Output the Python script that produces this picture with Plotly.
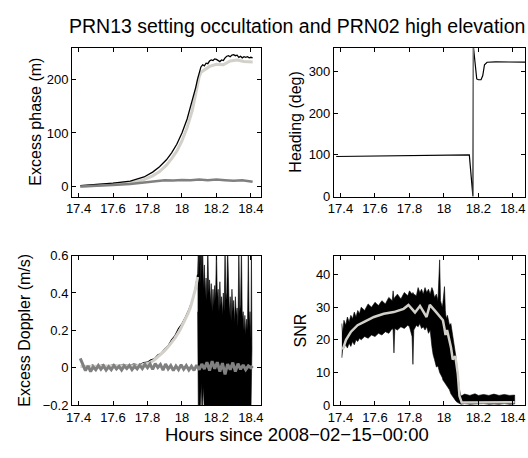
import plotly.graph_objects as go

FONT = "Liberation Sans"
LIGHT = "#d2d0c9"
DARK = "#808080"

# ---------------- data ----------------
x_ticks = [17.4, 17.6, 17.8, 18.0, 18.2, 18.4]
x_ticklabels = ["17.4", "17.6", "17.8", "18", "18.2", "18.4"]

# Panel 1: excess phase (m)
phase_black_t = [17.41, 17.5, 17.6, 17.7, 17.78, 17.83, 17.87, 17.91, 17.94, 17.97, 18.0, 18.03,
                 18.06, 18.08, 18.09, 18.1, 18.105, 18.11, 18.12, 18.13, 18.14, 18.15, 18.16, 18.17,
                 18.18, 18.19, 18.2, 18.21, 18.22, 18.23, 18.24, 18.25, 18.26, 18.27, 18.28, 18.29,
                 18.3, 18.31, 18.32, 18.33, 18.34, 18.35, 18.36, 18.37, 18.38, 18.39, 18.4, 18.41]
phase_black_v = [2, 3.5, 6.5, 10, 18, 27, 37, 50, 63, 79, 100, 126,
                 159, 185, 200, 214, 220, 223, 227, 225, 230, 229, 234, 236,
                 235, 238, 237, 235, 233, 236, 235, 240, 243, 244, 242, 245,
                 246, 244, 245, 241, 243, 240, 242, 241, 242, 240, 241, 240]
phase_light_t = [17.41, 17.5, 17.6, 17.7, 17.78, 17.83, 17.87, 17.91, 17.94, 17.97, 18.0, 18.03,
                 18.06, 18.08, 18.1, 18.11, 18.13, 18.16, 18.2, 18.24, 18.28, 18.32, 18.36, 18.41]
phase_light_v = [0, 2, 4, 7, 13, 20, 28, 40, 52, 66, 85, 110,
                 142, 172, 205, 213, 218, 224, 228, 227, 234, 236, 233, 232]
phase_dark_t = [17.41, 17.5, 17.6, 17.7, 17.8, 17.85, 17.9, 17.95, 18.0, 18.05, 18.1, 18.15,
                18.2, 18.25, 18.3, 18.35, 18.38, 18.41]
phase_dark_v = [0, 1, 3, 5, 8, 10, 12, 11.5, 12.5, 12, 13, 12, 13, 12, 11, 12, 10, 9]
phase_yticks = [0, 100, 200]

# Panel 2: heading (deg)
head_t = [17.375, 17.5, 17.6, 17.7, 17.8, 17.9, 18.0, 18.1, 18.147, 18.168, 18.171, 18.19,
          18.2, 18.215, 18.225, 18.235, 18.25, 18.3, 18.4, 18.47]
head_v = [96, 96.5, 97, 97, 97.5, 98, 98.5, 99.5, 100, 0, 358, 282,
          280, 280, 290, 316, 322, 323, 323, 322]
head_grey_t = [18.17, 18.17]
head_grey_v = [0, 358]
head_yticks = [0, 100, 200, 300]

# Panel 3: excess Doppler (m/s)
dop_black_t = [17.42, 17.45, 17.48, 17.51, 17.54, 17.57, 17.6, 17.63, 17.66, 17.69, 17.72, 17.75,
               17.78, 17.8, 17.82, 17.84, 17.86, 17.88, 17.9, 17.92, 17.94, 17.96, 17.98, 18.0,
               18.02, 18.04, 18.06, 18.075, 18.091]
dop_black_v = [0.012, 0.004, 0.014, 0.006, 0.015, 0.008, 0.016, 0.01, 0.018, 0.012, 0.02, 0.016,
               0.028, 0.03, 0.042, 0.048, 0.068, 0.078, 0.1, 0.118, 0.15, 0.172, 0.21, 0.235,
               0.27, 0.31, 0.36, 0.41, 0.5]
dop_noise_t = [18.091, 18.095, 18.098, 18.101, 18.104, 18.107, 18.11, 18.113, 18.116, 18.12,
               18.125, 18.13, 18.135, 18.14, 18.145, 18.15, 18.155, 18.16, 18.165, 18.17,
               18.175, 18.18, 18.185, 18.19, 18.195, 18.2, 18.205, 18.21, 18.215, 18.22,
               18.225, 18.23, 18.235, 18.24, 18.245, 18.25, 18.255, 18.26, 18.265, 18.27,
               18.275, 18.28, 18.285, 18.29, 18.295, 18.3, 18.305, 18.31, 18.315, 18.32,
               18.325, 18.33, 18.335, 18.34, 18.345, 18.35, 18.355, 18.36, 18.365, 18.37,
               18.375, 18.38, 18.385, 18.39, 18.395, 18.4, 18.403, 18.406]
dop_noise_hi = [0.5, 0.65, 0.48, 0.65, 0.55, 0.65, 0.45, 0.65, 0.5, 0.65,
                0.42, 0.55, 0.38, 0.48, 0.36, 0.65, 0.4, 0.47, 0.34, 0.45,
                0.3, 0.42, 0.33, 0.44, 0.36, 0.65, 0.38, 0.42, 0.3, 0.46,
                0.33, 0.38, 0.28, 0.4, 0.3, 0.65, 0.36, 0.4, 0.65, 0.34,
                0.28, 0.38, 0.25, 0.42, 0.3, 0.36, 0.24, 0.38, 0.28, 0.32,
                0.22, 0.65, 0.3, 0.34, 0.65, 0.26, 0.3, 0.2, 0.28, 0.18,
                0.26, 0.2, 0.65, 0.22, 0.3, 0.15, 0.65, 0.1]
dop_noise_lo = [0.3, -0.25, -0.25, -0.25, -0.25, -0.25, -0.25, -0.08, -0.25, -0.25,
                -0.1, -0.25, -0.25, -0.25, -0.25, -0.25, -0.25, -0.25, -0.25, -0.25,
                -0.25, -0.25, -0.25, -0.25, -0.25, -0.25, -0.25, -0.25, -0.25, -0.25,
                -0.25, -0.25, -0.25, -0.25, -0.25, -0.25, -0.25, -0.25, -0.25, -0.25,
                -0.25, -0.25, -0.25, -0.25, -0.25, -0.25, -0.25, -0.25, -0.25, -0.25,
                -0.25, -0.25, -0.25, -0.25, -0.25, -0.25, -0.25, -0.25, -0.25, -0.25,
                -0.25, -0.25, -0.25, -0.25, -0.25, -0.25, -0.1, 0.0]
dop_light_t = [17.411, 17.5, 17.6, 17.7, 17.739, 17.77, 17.806, 17.84, 17.872, 17.9, 17.93,
               17.96, 17.987, 18.01, 18.034, 18.05, 18.063, 18.078, 18.091]
dop_light_v = [0.007, 0.008, 0.01, 0.01, 0.012, 0.016, 0.024, 0.042, 0.067, 0.092, 0.124,
               0.16, 0.2, 0.24, 0.288, 0.325, 0.365, 0.42, 0.486]
dop_dark_t = [17.41, 17.425, 17.44, 17.455, 17.47, 17.485, 17.5, 17.515, 17.53, 17.545,
              17.56, 17.575, 17.59, 17.605, 17.62, 17.635, 17.65, 17.665, 17.68, 17.695,
              17.71, 17.725, 17.74, 17.755, 17.77, 17.785, 17.8, 17.815, 17.83, 17.845,
              17.86, 17.875, 17.89, 17.905, 17.92, 17.935, 17.95, 17.965, 17.98, 17.995,
              18.01, 18.025, 18.04, 18.055, 18.07, 18.085, 18.1, 18.115, 18.13, 18.145,
              18.16, 18.175, 18.19, 18.205, 18.22, 18.235, 18.25, 18.265, 18.28, 18.295,
              18.31, 18.325, 18.34, 18.355, 18.37, 18.385, 18.4, 18.41]
dop_dark_v = [0.05, 0.02, -0.015, 0.01, -0.02, 0.005, -0.01, 0.012, -0.008, 0.01,
              -0.012, 0.006, -0.01, 0.012, -0.006, 0.008, -0.012, 0.01, -0.004, 0.012,
              -0.01, 0.008, -0.006, 0.014, -0.004, 0.018, 0.0, 0.02, -0.008, 0.022,
              0.002, 0.018, -0.012, 0.02, -0.006, 0.012, -0.014, 0.01, -0.01, 0.016,
              -0.008, 0.012, -0.012, 0.008, -0.014, 0.014, -0.01, 0.02, -0.006, 0.03,
              -0.015, 0.035, -0.005, 0.03, -0.02, 0.025, -0.035, 0.02, -0.01, 0.028,
              -0.02, 0.022, -0.008, 0.015, -0.01, 0.01, 0.0, 0.01]
dop_yticks = [-0.2, 0, 0.2, 0.4, 0.6]
dop_yticklabels = ["\u22120.2", "0", "0.2", "0.4", "0.6"]

# Panel 4: SNR (noisy band envelope + smoothed line)
snr_t = [17.408, 17.412, 17.42, 17.43, 17.44, 17.45, 17.46, 17.47, 17.48, 17.49,
         17.5, 17.51, 17.52, 17.54, 17.56, 17.58, 17.6, 17.62, 17.64, 17.66,
         17.68, 17.7, 17.705, 17.71, 17.715, 17.73, 17.75, 17.77, 17.79, 17.8,
         17.815, 17.82, 17.825, 17.84, 17.85, 17.86, 17.87, 17.88, 17.89, 17.9,
         17.91, 17.92, 17.93, 17.937, 17.945, 17.956, 17.965, 17.975, 17.98, 17.99,
         17.994, 18.003, 18.008, 18.013, 18.02, 18.032, 18.04, 18.051, 18.061, 18.07,
         18.08, 18.09, 18.099, 18.12, 18.15, 18.18, 18.2, 18.23, 18.26, 18.29,
         18.32, 18.35, 18.38, 18.41]
snr_hi = [25, 22, 26, 24.5, 27, 25.5, 27.5, 26.5, 28.5, 27,
          29, 28, 30, 29, 31, 30, 31.5, 30.5, 32, 31,
          33, 32, 35, 32.5, 33, 34, 32.5, 34.5, 33.5, 35,
          34, 34.5, 34, 33.5, 36, 34.5, 35.5, 34, 36, 34.5,
          35.5, 34, 36, 35, 33, 34, 32, 44.5, 32, 30,
          31.4, 36.3, 29, 26.5, 27.5, 24.5, 25, 21.5, 18.6, 14.6,
          9.7, 4.7, 2.8, 3.4, 3.0, 3.5, 3.0, 3.3, 3.0, 3.4,
          3.0, 3.3, 3.0, 3.1]
snr_lo = [14.5, 17, 17.5, 18.5, 17.5, 19, 18, 19.5, 18.5, 20,
          19.5, 20.5, 20, 21, 20.5, 21.5, 21, 22, 21.5, 22.5,
          22, 23.5, 23, 16, 23.5, 23, 24, 23.5, 24.5, 24,
          21, 12.5, 23, 24.5, 24, 25, 23.5, 24, 23, 24,
          22, 23, 18, 15.5, 14, 11.7, 12, 10, 9.5, 8.5,
          7.7, 7, 6.5, 6, 5.5, 4.7, 3.5, 2.5, 1.8, 1.2,
          0.8, 0.5, 0.3, 0.5, 0.3, 0.4, 0.3, 0.5, 0.3, 0.4,
          0.3, 0.5, 0.3, 0.4]
snr_line_t = [17.413, 17.432, 17.461, 17.499, 17.537, 17.594, 17.651, 17.709, 17.766, 17.794,
              17.832, 17.861, 17.899, 17.918, 17.956, 17.994, 18.003, 18.009, 18.018, 18.041,
              18.051, 18.066, 18.08, 18.09, 18.103, 18.2, 18.3, 18.41]
snr_line_v = [17, 20, 22.5, 24.5, 25.5, 27, 28, 28.5, 29.5, 30.7,
              28.4, 30.4, 27, 30.7, 28.4, 26, 23.5, 21.5, 23, 17.6,
              14, 15, 9.7, 2.8, 0.8, 0.9, 0.8, 0.9]
snr_yticks = [0, 10, 20, 30, 40]

for a, b in [(phase_black_t, phase_black_v), (phase_light_t, phase_light_v),
             (phase_dark_t, phase_dark_v), (head_t, head_v), (dop_black_t, dop_black_v),
             (dop_noise_t, dop_noise_hi), (dop_noise_t, dop_noise_lo), (dop_light_t, dop_light_v),
             (dop_dark_t, dop_dark_v), (snr_t, snr_hi), (snr_t, snr_lo), (snr_line_t, snr_line_v)]:
    assert len(a) == len(b), (len(a), len(b))

# ---------------- figure ----------------
W, H = 528, 458
fig = go.Figure()

def line(x, y, xa, ya, color, width):
    fig.add_trace(go.Scatter(x=x, y=y, mode="lines", xaxis=xa, yaxis=ya,
                             line=dict(color=color, width=width), hoverinfo="skip"))

def band(t, hi, lo, xa, ya):
    fig.add_trace(go.Scatter(x=list(t) + list(t)[::-1], y=list(hi) + list(lo)[::-1],
                             mode="lines", fill="toself", fillcolor="black",
                             line=dict(color="black", width=0.6), xaxis=xa, yaxis=ya,
                             hoverinfo="skip"))

# panel 1
line(phase_light_t, phase_light_v, "x", "y", LIGHT, 3)
line(phase_black_t, phase_black_v, "x", "y", "black", 1.3)
line(phase_dark_t, phase_dark_v, "x", "y", DARK, 2.5)
# panel 2
line(head_t, head_v, "x2", "y2", "black", 1.2)
line(head_grey_t, head_grey_v, "x2", "y2", DARK, 1.2)
# panel 3
band(dop_noise_t, dop_noise_hi, dop_noise_lo, "x3", "y3")
line(dop_black_t, dop_black_v, "x3", "y3", "black", 1.3)
line(dop_light_t, dop_light_v, "x3", "y3", LIGHT, 3)
line(dop_dark_t, dop_dark_v, "x3", "y3", DARK, 3)
# panel 4
band(snr_t, snr_hi, snr_lo, "x4", "y4")
line(snr_line_t, snr_line_v, "x4", "y4", LIGHT, 2.5)

def px_dom(a, b, total):
    return [a / total, b / total]

def pyd(top, bottom):
    return [1 - bottom / H, 1 - top / H]

def axis(domain, rng, tickvals, ticktext, anchor):
    return dict(domain=domain, range=rng, tickvals=tickvals, ticktext=ticktext,
                ticks="inside", ticklen=4, tickwidth=1, tickcolor="black",
                showline=True, linecolor="black", linewidth=1, mirror="ticks",
                showgrid=False, zeroline=False, anchor=anchor,
                tickfont=dict(family=FONT, size=13, color="black"))

xl = px_dom(67, 259, W)
xr = px_dom(333, 527, W)
yt = pyd(42, 196)
yb = pyd(257, 411.7)

fig.update_layout(
    width=W, height=H, margin=dict(l=0, r=0, t=0, b=0),
    paper_bgcolor="white", plot_bgcolor="white", showlegend=False,
    font=dict(family=FONT, color="black"),
    xaxis=axis(xl, [17.362, 18.459], x_ticks, x_ticklabels, "y"),
    yaxis=axis(yt, [-18.6, 259], phase_yticks, [str(v) for v in phase_yticks], "x"),
    xaxis2=axis(xr, [17.362, 18.47], x_ticks, x_ticklabels, "y2"),
    yaxis2=axis(yt, [0, 357], head_yticks, [str(v) for v in head_yticks], "x2"),
    xaxis3=axis(xl, [17.362, 18.459], x_ticks, x_ticklabels, "y3"),
    yaxis3=axis(yb, [-0.2, 0.6], dop_yticks, dop_yticklabels, "x3"),
    xaxis4=axis(xr, [17.362, 18.47], x_ticks, x_ticklabels, "y4"),
    yaxis4=axis(yb, [0, 45.8], snr_yticks, [str(v) for v in snr_yticks], "x4"),
)

def ann(text, x, y, size, angle=0):
    fig.add_annotation(text=text, x=x / W, y=1 - y / H, xref="paper", yref="paper",
                       showarrow=False, textangle=angle, xanchor="center", yanchor="middle",
                       font=dict(family=FONT, size=size, color="black"))

ann("PRN13 setting occultation and PRN02 high elevation", 295.5, 20, 19.5)
ann("Hours since 2008\u221202\u221215\u221200:00", 295.5, 442, 18.5)
ann("Excess phase (m)", 30, 119, 16, -90)
ann("Heading (deg)", 294, 119, 16, -90)
ann("Excess Doppler (m/s)", 18, 334, 16, -90)
ann("SNR", 299, 334, 16, -90)

fig.write_html("out.html")
